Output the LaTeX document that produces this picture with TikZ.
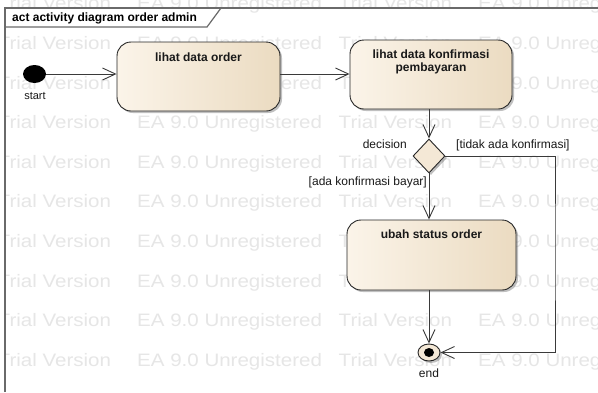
\documentclass[tikz,border=0pt]{standalone}
\usepackage{fontspec}
\setmainfont{Liberation Sans}
\usetikzlibrary{arrows.meta,shapes.geometric,shadows,calc}
\definecolor{wm}{HTML}{E6E6E6}
\definecolor{boxL}{HTML}{FBF4E9}
\definecolor{boxR}{HTML}{EBDBC1}
\definecolor{decF}{HTML}{F4E8D6}
\definecolor{lineC}{HTML}{3A3A3A}
\definecolor{frameC}{HTML}{6A6A6A}
\begin{document}
\begin{tikzpicture}[x=1pt,y=-1pt,
  wmtext/.style={text=wm, font=\fontsize{18}{18}\selectfont, xscale=1.14, anchor=base west, inner sep=0},
  shad/.style={drop shadow={shadow xshift=2pt,shadow yshift=-2pt,opacity=0.35,fill=black!70}},
  act/.style={draw=black!85, line width=0.9pt, rounded corners=14pt, left color=boxL, right color=boxR, shad, inner sep=0},
  acttext/.style={font=\fontsize{12}{14}\selectfont\bfseries, anchor=base, inner sep=0, text=black!90},
  lbl/.style={font=\fontsize{12}{14}\selectfont, inner sep=0, text=black!90},
  arr/.style={draw=lineC, line width=0.9pt, -{Straight Barb[length=13pt,width=12pt,line width=0.9pt]}},
]
\useasboundingbox (0,0) rectangle (598,392);
\fill[white] (0,0) rectangle (598,392);
% watermark
\begin{scope}
\clip (5,0) rectangle (598,392);
\foreach \k in {0,...,9}{
  \pgfmathsetmacro\yb{9.9+39.6*\k}
  \node[wmtext] (wmA\k) at (-2.5,\yb) {Trial Version};
  \node[wmtext] (wmB\k) at (137,\yb) {EA 9.0 Unregistered};
  \node[wmtext] (wmC\k) at (338.5,\yb) {Trial Version};
  \node[wmtext] (wmD\k) at (478,\yb) {EA 9.0 Unregistered};
}
\end{scope}
% frame
\fill[white] (5,8) -- (221,8) -- (207,27) -- (5,27) -- cycle;
\draw[frameC, line width=1.2pt] (5,27) -- (207,27) -- (221,8);
\draw[frameC, line width=1.4pt] (5,392) -- (5,8) -- (598,8);
\node[font=\fontsize{12}{14}\selectfont\bfseries, anchor=base west, inner sep=0] (title) at (12,21.3) {act activity diagram order admin};
% nodes
\node[ellipse, fill=black, minimum width=23pt, minimum height=18pt, inner sep=0] (start) at (34.5,74) {};
\node[lbl, anchor=base, font=\fontsize{11}{13}\selectfont] (startL) at (35,99) {start};
\node[act, minimum width=163pt, minimum height=69pt] (box1) at (198.5,76.5) {};
\node[acttext] (box1t) at (198.5,61) {lihat data order};
\node[act, minimum width=162pt, minimum height=69pt] (box2) at (431,74.5) {};
\node[acttext] (box2t) at (431,58) {lihat data konfirmasi};
\node[acttext] (box2u) at (431,71.5) {pembayaran};
\node[diamond, draw=black!85, line width=0.9pt, fill=decF, minimum width=32pt, minimum height=34pt, inner sep=0, shad] (dec) at (429,156) {};
\node[lbl, anchor=base east] (decL) at (407,148) {decision};
\node[lbl, anchor=base west] (noL) at (456,148) {[tidak ada konfirmasi]};
\node[lbl, anchor=base east] (yesL) at (427,185) {[ada konfirmasi bayar]};
\node[act, minimum width=169pt, minimum height=70pt] (box3) at (431.5,255) {};
\node[acttext] (box3t) at (431.5,238) {ubah status order};
\node[ellipse, draw=black!85, line width=0.9pt, fill=decF, minimum width=22pt, minimum height=17pt, inner sep=0, shad] (end) at (429,352.5) {};
\node[ellipse, fill=black, minimum width=10pt, minimum height=9pt, inner sep=0] (endDot) at (end) {};
\node[lbl, anchor=base] (endL) at (429,377) {end};
\coordinate (cr) at (555,250);
% connectors
\draw[arr] (start) -- (box1.west |- start);
\draw[arr] (box1.east |- start) -- (box2.west |- start);
\draw[arr] (dec.north |- box2.south) -- (dec.north);
\draw[arr] (dec.south) -- (dec.south |- box3.north);
\draw[arr] (end.north |- box3.south) -- (end.north);
\draw[arr] (dec.east) -| (cr) |- (end.east);
\end{tikzpicture}
\end{document}
